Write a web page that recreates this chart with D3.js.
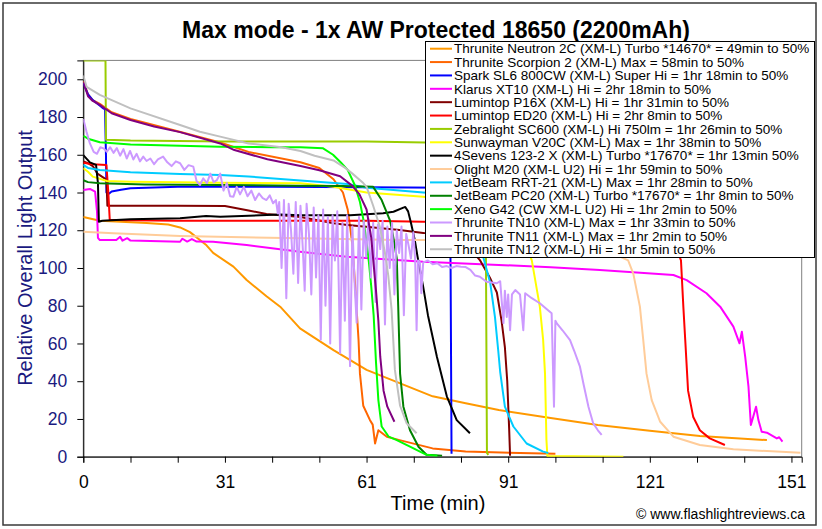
<!DOCTYPE html>
<html><head><meta charset="utf-8">
<script src="https://cdn.jsdelivr.net/npm/d3@7"></script>
<style>body{margin:0;background:#fff;} svg{display:block;font-family:Arial,"Liberation Sans",sans-serif;}</style>
</head><body><svg id="c" width="822" height="529"></svg>
<script>
const titleText = "Max mode - 1x AW Protected 18650 (2200mAh)";
const yTitle = "Relative Overall Light Output";
const xTitle = "Time (min)";
const creditText = "\u00A9 www.flashlightreviews.ca";
const yTicks = [0,20,40,60,80,100,120,140,160,180,200];
const xMinorTicks = [0,10,20,30,40,50,60,70,80,90,100,110,120,130,140,150];
const xTickPos = [0,30,60,90,120,150];
const xTickLabels = ["0","31","61","91","121","151"];

const seriesNames = [
 "Thrunite Neutron 2C (XM-L) Turbo *14670* = 49min to 50%",
 "Thrunite Scorpion 2 (XM-L) Max = 58min to 50%",
 "Spark SL6 800CW (XM-L) Super Hi = 1hr 18min to 50%",
 "Klarus XT10 (XM-L) Hi = 2hr 18min to 50%",
 "Lumintop P16X (XM-L) Hi = 1hr 31min to 50%",
 "Lumintop ED20 (XM-L) Hi = 2hr 8min to 50%",
 "Zebralight SC600 (XM-L) Hi 750lm = 1hr 26min to 50%",
 "Sunwayman V20C (XM-L) Max = 1hr 38min to 50%",
 "4Sevens 123-2 X (XM-L) Turbo *17670* = 1hr 13min 50%",
 "Olight M20 (XM-L U2) Hi = 1hr 59min to 50%",
 "JetBeam RRT-21 (XM-L) Max = 1hr 28min to 50%",
 "JetBeam PC20 (XM-L) Turbo *17670* = 1hr 8min to 50%",
 "Xeno G42 (CW XM-L U2) Hi = 1hr 2min to 50%",
 "Thrunite TN10 (XM-L) Max = 1hr 33min to 50%",
 "Thrunite TN11 (XM-L) Max = 1hr 2min to 50%",
 "Thrunite TN12 (XM-L) Hi = 1hr 5min to 50%"
];
const seriesColors = ["#FF9900","#FF6600","#0000FF","#FF00FF","#800000","#FF0000","#99CC00","#FFFF00",
 "#000000","#FFCC99","#00CCFF","#008000","#00FF00","#CC99FF","#800080","#C0C0C0"];

const neutron2C = [[0,127],[3.5,125],[13.4,123.8],[18,123],[20.5,121.5],[22.6,119],[26.1,112],[27.5,108],[31.8,100.7],[34.6,93.6],[38.8,85],[41.7,79.5],[45.9,68],[53,56.5],[60,46],[67,39],[74,32],[81,28.3],[88,24.7],[99,20.5],[109,16.8],[120,13.8],[130.6,11],[144.8,8.8]];
const scorpion2 = [[0,199],[1,192],[2,189],[3.5,187],[6,182.5],[10,179],[20,172.5],[29,166.5],[35,161.5],[46,156],[50,153],[53,147],[55,140],[56,131],[56.5,122],[57,112],[57.6,90],[58.3,62],[58.6,44],[59.3,27],[60.7,19.5],[61.3,17],[61.8,7],[62.5,14],[64.3,10.6],[67,8.8],[74,4.4],[81,2.7],[95,1.8],[100,1.5]];
const sparkSL6 = [[0,198],[1,192],[2,189],[3,187],[4,185],[4.6,184],[4.8,160],[4.9,140],[5.5,139.5],[6,140.5],[8,141.5],[10,142.3],[20,143],[40,143],[60,142.8],[77.6,142.5],[77.8,100],[78,1.5]];
const klarusXT10 = [[0,141.3],[1.4,141.9],[2.5,140.4],[2.9,130],[3.1,116],[3.5,114.8],[7,114.8],[7.8,116.5],[8.3,114.5],[9.3,115.8],[10,114.5],[20.5,113.9],[21,115.5],[22,114],[23,115.3],[24,114],[27.5,113.9],[34.6,112.2],[45.9,108.6],[55.8,106],[72,103.3],[88,101.6],[99,100.4],[109.4,98.9],[125,96.3],[127.8,93.6],[132,86.6],[134.9,79.5],[137.7,68.9],[139,60.1],[139.5,66.2],[140.2,53],[140.9,37.1],[141.4,16.8],[141.9,21.2],[142.5,26.5],[143,19.4],[143.7,13.2],[144.8,12.7],[146.9,9.7],[147.4,10.3],[148.1,8]];
const lumintopP16X = [[0,156.5],[1,155.5],[2,154],[3,150],[4.5,147.5],[4.9,147],[5.1,133],[10,133],[20,133],[30,132.8],[35,130.5],[38.8,128.6],[46,127],[53,123.7],[56,122.8],[67,120.1],[72,118.6],[78,116],[82,110],[84,104.2],[86.1,95],[87.6,87],[88.6,72],[89.3,58],[89.8,40],[90.2,15],[90.4,0.5]];
const lumintopED20 = [[0,155.8],[2,155],[4.9,154.6],[5.3,140],[5.6,125.6],[10,125.3],[20,125],[40,125],[60,125],[72,124.5],[90,124],[110,123.5],[120,122],[124,117],[126,108],[126.6,104],[127.1,79.5],[127.5,62],[128.1,35],[129.2,21],[130.6,14],[132.7,9.7],[135.9,6.2]];
const zebralightSC600 = [[0,210],[4.7,210],[4.8,168],[10,167.5],[30,167],[60,167],[84.9,166],[85.1,150],[85.3,100],[85.5,2],[85.8,1]];
const sunwaymanV20C = [[0,152.8],[1,151],[2,148.4],[5,146.1],[10,145.7],[20.5,145.4],[29,145.2],[46,144.9],[53,143.1],[60,140],[72,137.8],[80,135],[86,131],[90,126],[93,117],[95,104],[96.7,79.5],[97.4,62],[97.8,44],[98.1,9],[98.3,0.4],[114.4,0]];
const fourSevens = [[0,159.8],[1.4,156],[2.7,154.6],[3.1,145],[3.3,124.5],[4,125],[10,125.8],[20.5,126.3],[26,127.5],[29,127.2],[41.7,128.3],[46,128],[56.5,128],[63.5,129],[65.7,129.8],[67.8,132],[68.2,132.3],[68.8,130],[69.4,124],[70.2,115],[70.8,106],[72,90],[73,75],[74.9,53],[77,32],[79.1,19.4],[81.9,12.4]];
const olightM20 = [[0,119.2],[6.4,118.4],[20.5,117],[45.9,115.7],[67,114.8],[72,114.8],[90,114],[100,113],[108,111],[112,108],[115.4,104],[116.5,97],[117.9,79.5],[118.6,62],[119.3,44],[120.4,30],[122.2,18.5],[125,10.6],[130.6,6.2],[137.7,3.9],[144.8,3],[151.9,2.1]];
const jetbeamRRT21 = [[0,154.6],[1,153],[3.5,151.9],[10,150.7],[20.5,149.8],[29,149.3],[35,148.5],[46,146.3],[56,144.5],[60,142.5],[72,140],[78,139],[81,137],[83,128],[84.7,106],[86.2,92],[87.2,74],[87.9,56],[88.3,45],[89.3,26.5],[91.1,16],[93.9,7],[97.4,2.7],[98.5,2]];
const jetbeamPC20 = [[0,146.5],[1,145.5],[3.5,144.9],[13,144.3],[29,144],[45,143.6],[55,143.5],[61.4,143],[63.2,136],[65,125],[65.9,113],[66.4,105],[66.7,80],[67.1,44],[67.8,26.5],[69.2,14],[71,5.3],[72.7,1],[76,0.5]];
const xenoG42 = [[0,170],[1,168.5],[3.5,166.6],[10,165.5],[20.5,164.8],[29,164.3],[40,164],[46,164],[50.8,163.4],[52.9,160],[54.5,156],[56,152],[57.5,144],[58.6,135],[59.3,126],[60,114],[60.5,103],[61,90],[61.5,75],[62,50],[62.5,30],[63.2,16],[64.7,10.6],[66.4,8.8],[69.2,5.3],[72.7,1],[75,0.5]];
const thruniteTN10 = [[0,179],[0.7,172],[1.4,166],[2.2,161.5],[2.9,160.5],[3.6,164],[4.3,163.4],[5,161.6],[5.7,164],[6.4,161],[7.1,163.5],[7.8,159.5],[8.5,163],[9.2,158],[9.9,162],[10.6,157.5],[11.3,160.5],[12,156.5],[12.7,159],[13.4,156.7],[14.2,158],[15,155],[15.8,157.5],[16.9,159],[17.8,156],[18.7,154],[19.6,156.5],[20.5,155.5],[21.4,152],[22.3,154.5],[23.3,153.7],[24,146],[24.7,144],[25.4,147.5],[26.2,145],[26.9,150],[27.6,145.5],[28.3,146.6],[29,150],[29.7,141],[30.4,145],[31.1,138],[31.8,137.8],[32.5,143],[33.2,139],[34,143],[34.8,138],[35.6,141],[36.4,136],[37.2,139.5],[38,137],[38.8,136],[39.5,138.5],[40.2,134.3],[40.8,136],[41.2,129],[41.5,135],[42,100],[42.5,136],[43,84],[43.5,134],[44,120],[44.5,97],[45,135],[45.5,92],[46,133],[46.5,110],[46.9,88],[47.3,134],[47.8,118],[48.3,86],[48.8,132],[49.3,95],[49.8,128],[50.3,62],[50.8,131],[51.3,80],[51.8,127],[52.3,60],[52.8,128],[53.3,104],[53.8,130],[54.4,55],[54.9,124],[55.4,72],[55.9,128],[56.5,48],[57,122],[57.5,90],[57.9,71],[58.4,127],[58.9,78],[59.4,125],[59.9,106],[60.4,126],[60.9,95],[61.4,124],[61.9,82],[62.4,123],[62.9,110],[63.4,125],[63.9,70],[64.4,122],[64.9,100],[65.4,124],[65.9,86],[66.4,120],[66.9,108],[67.4,122],[67.9,75],[68.4,118],[68.9,112],[69.4,105],[69.9,119],[70.3,104],[70.6,67],[70.9,104],[71.3,103],[71.6,86.6],[72,103],[73,104],[74,102],[75,102.5],[76,100.5],[77,101],[78,100],[79,101],[80,100.7],[81,100.5],[82,99],[83,96],[84,95.4],[85.4,92.7],[87.6,91.9],[88.3,93],[89,70.7],[89.3,88],[89.7,74],[90,86],[90.4,67],[90.8,86],[91.5,88.3],[92.5,86],[93.2,67],[93.6,86.6],[95,84],[96.7,81.3],[98,78.5],[99.2,76],[99.7,26.5],[100,72],[100.3,70.7],[101.5,67],[103.1,61.8],[104,56],[105.2,47.7],[106,38],[107,26.5],[108,17.7],[109,14],[109.8,11.5]];
const thruniteTN11 = [[0,198.7],[1,191],[2,188.5],[3.5,186.4],[6,182],[10,178.4],[15,175],[20.5,172],[29,166],[32,162.5],[39,157.6],[46,154],[50,151.8],[54.4,148.6],[57,143.5],[58.5,139],[60,131],[61,116],[62,88],[62.5,72],[62.9,53],[63.6,35],[64.4,26.5],[65.9,18.5]];
const thruniteTN12 = [[0,202],[0.7,196],[3.5,191.7],[10,184.6],[20.5,175.8],[24.7,172.2],[29,169.6],[35,166],[42,164],[46,162],[49,159.5],[53,157],[55.8,152.5],[57,150],[59.3,145],[60,143],[61.4,133],[62.8,122],[63.9,108],[64.6,96],[65.3,78],[66,46],[67.1,27],[68.5,17.7],[70.6,12.4]];

const seriesData = [neutron2C, scorpion2, sparkSL6, klarusXT10, lumintopP16X, lumintopED20, zebralightSC600,
 sunwaymanV20C, fourSevens, olightM20, jetbeamRRT21, jetbeamPC20, xenoG42, thruniteTN10, thruniteTN11, thruniteTN12];

const svg = d3.select("#c");
const W = 822, H = 529;
const L = 83.3, R = 801.7, T = 60.4, B = 456.7;
const x = d3.scaleLinear().domain([0, (R - L) / 4.721]).range([L, R]);
const y = d3.scaleLinear().domain([0, 210]).range([B, T]);

svg.append("rect").attr("width", W).attr("height", H).attr("fill", "#fff");
svg.append("rect").attr("x", 3).attr("y", 3).attr("width", 813).attr("height", 522)
  .attr("fill", "none").attr("stroke", "#3a3a3a").attr("stroke-width", 1.5);

// plot area border
svg.append("rect").attr("x", L).attr("y", T).attr("width", R - L).attr("height", B - T)
  .attr("fill", "#fff").attr("stroke", "#808080").attr("stroke-width", 1);

svg.append("defs").append("clipPath").attr("id", "clip")
  .append("rect").attr("x", L).attr("y", T).attr("width", R - L).attr("height", B - T);

// axes
const yAxis = d3.axisLeft(y).tickValues(yTicks).tickSize(6).tickPadding(10);
const gy = svg.append("g").attr("transform", `translate(${L},0)`).call(yAxis);
gy.select(".domain").attr("stroke", "#000");
gy.selectAll(".tick line").attr("stroke", "#000");
gy.selectAll("text").attr("fill", "#1a1a80").style("font-size", "17.5px").style("font-family", "Arial, 'Liberation Sans', sans-serif");

const xAxisMinor = d3.axisBottom(x).tickValues(xMinorTicks).tickSize(6).tickFormat("");
const gx = svg.append("g").attr("transform", `translate(0,${B})`).call(xAxisMinor);
gx.select(".domain").attr("stroke", "#000");
gx.selectAll(".tick line").attr("stroke", "#000");
const xAxisLab = d3.axisBottom(x).tickValues(xTickPos).tickSize(0).tickPadding(19)
  .tickFormat((d, i) => xTickLabels[i]);
const gx2 = svg.append("g").attr("transform", `translate(0,${B})`).call(xAxisLab);
gx2.select(".domain").remove();
gx2.selectAll("text").attr("fill", "#000").style("font-size", "17.5px").style("font-family", "Arial, 'Liberation Sans', sans-serif");

// lines
const line = d3.line().x(d => x(d[0])).y(d => y(d[1]));
const gLines = svg.append("g").attr("clip-path", "url(#clip)");
seriesData.forEach((s, i) => {
  gLines.append("path").datum(s).attr("d", line).attr("fill", "none")
    .attr("stroke", seriesColors[i]).attr("stroke-width", 2).attr("stroke-linejoin", "round");
});

// titles
svg.append("text").attr("x", 436).attr("y", 38).attr("text-anchor", "middle")
  .style("font-size", "23px").style("font-weight", "bold").attr("fill", "#000").text(titleText);
svg.append("text").attr("transform", "translate(32,258) rotate(-90)").attr("text-anchor", "middle")
  .style("font-size", "20px").attr("fill", "#1a1a80").text(yTitle);
svg.append("text").attr("x", 438).attr("y", 510).attr("text-anchor", "middle")
  .style("font-size", "20px").attr("fill", "#000").text(xTitle);
svg.append("text").attr("x", 805).attr("y", 519).attr("text-anchor", "end")
  .style("font-size", "14px").attr("fill", "#000").text(creditText);

// legend
const lg = svg.append("g");
lg.append("rect").attr("x", 425.5).attr("y", 41.5).attr("width", 389).attr("height", 216)
  .attr("fill", "#fff").attr("stroke", "#000").attr("stroke-width", 1);
seriesNames.forEach((n, i) => {
  const yy = 48.7 + i * 13.37;
  lg.append("line").attr("x1", 430).attr("x2", 452).attr("y1", yy).attr("y2", yy)
    .attr("stroke", seriesColors[i]).attr("stroke-width", 2);
  lg.append("text").attr("x", 454).attr("y", yy).attr("dy", "0.35em")
    .style("font-size", "13.5px").attr("fill", "#000").text(n);
});
</script></body></html>
